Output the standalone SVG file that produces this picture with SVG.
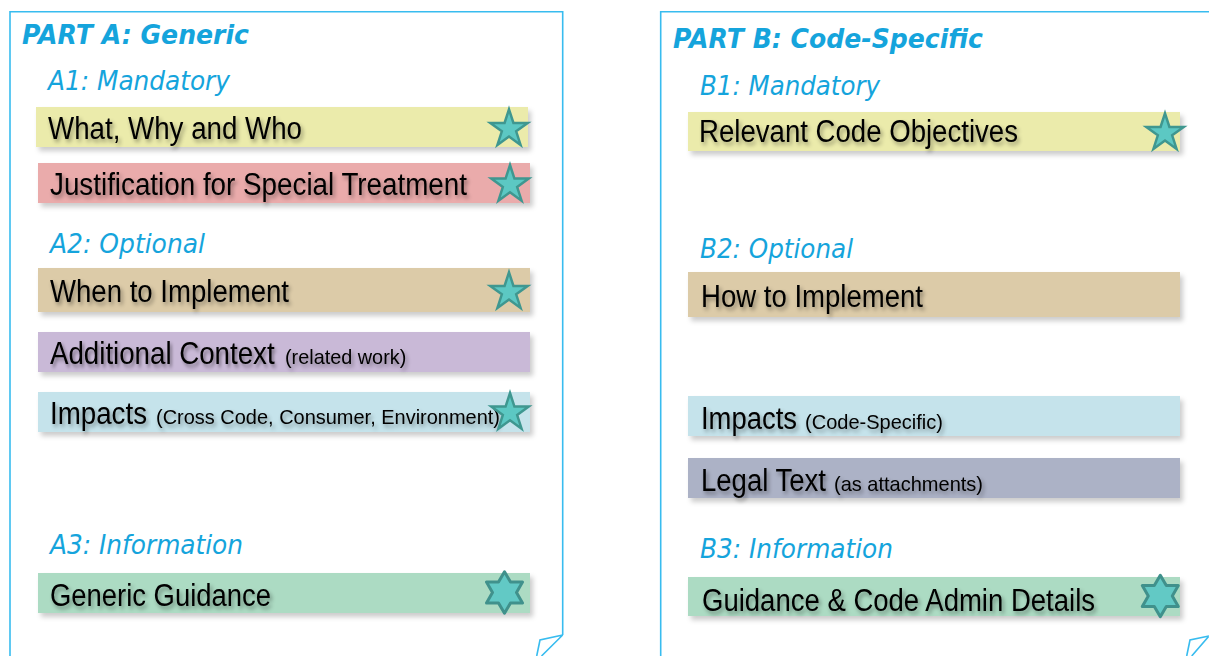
<svg xmlns="http://www.w3.org/2000/svg" xmlns:xlink="http://www.w3.org/1999/xlink" width="1209" height="656" viewBox="0 0 1209 656">
<style>
.panel{fill:none;stroke:#38bcef;stroke-width:1.6}
.h1{font-family:"DejaVu Sans",Verdana,sans-serif;font-weight:bold;font-style:italic;font-size:26px;fill:#15a4dc}
.h2{font-family:"DejaVu Sans",Verdana,sans-serif;font-style:italic;font-size:27px;fill:#15a4dc}
.t{font-family:"Liberation Sans",Arial,sans-serif;font-size:31px;fill:#000}
.s{font-family:"Liberation Sans",Arial,sans-serif;font-size:21px;fill:#000}
.box{filter:url(#bsh)}
.star{fill:#5cc8c3;stroke:#3f9790;stroke-width:2.5;stroke-linejoin:miter}
.hex{fill:#62c9c5;stroke:#40918c;stroke-width:3;stroke-linejoin:round}
</style>
<defs>
<filter id="bsh" x="-5%" y="-30%" width="115%" height="170%">
<feDropShadow dx="3" dy="4" stdDeviation="2.5" flood-color="#000" flood-opacity="0.2"/>
</filter>
<filter id="tsh" x="-2%" y="-25%" width="106%" height="160%">
<feGaussianBlur in="SourceAlpha" stdDeviation="2"/>
<feOffset dx="2" dy="3" result="b"/>
<feComponentTransfer in="b" result="c"><feFuncA type="linear" slope="0.4"/></feComponentTransfer>
<feMerge><feMergeNode in="c"/><feMergeNode in="SourceGraphic"/></feMerge>
</filter>
<path id="star5" class="star" d="M0,-19.7 L4.43,-6.09 L18.74,-6.09 L7.16,2.33 L11.58,15.94 L0,7.53 L-11.58,15.94 L-7.16,2.33 L-18.74,-6.09 L-4.43,-6.09 Z"/>
<path id="star6" class="hex" d="M0,-20.8 L6,-10.4 L18.01,-10.4 L12,0 L18.01,10.4 L6,10.4 L0,20.8 L-6,10.4 L-18.01,10.4 L-12,0 L-18.01,-10.4 L-6,-10.4 Z"/>
</defs>
<rect width="1209" height="656" fill="#fff"/>

<g id="panel-a">
<path class="panel" d="M10,656 V11.7 H562.7 V635"/>
<path class="panel" d="M562.7,635 L540,640 L536.7,656 M562.7,635 L541.5,656"/>
<text class="h1" x="22" y="44" textLength="227" lengthAdjust="spacingAndGlyphs">PART A: Generic</text>
<text class="h2" x="48" y="90" textLength="182" lengthAdjust="spacingAndGlyphs">A1: Mandatory</text>
<text class="h2" x="50" y="253" textLength="155" lengthAdjust="spacingAndGlyphs">A2: Optional</text>
<text class="h2" x="50" y="554" textLength="193" lengthAdjust="spacingAndGlyphs">A3: Information</text>
</g>

<g id="panel-b">
<path class="panel" d="M660.7,656 V11.7 H1210"/>
<path class="panel" d="M1209,636 L1190,640 L1186.7,656 M1209,636 L1191.7,656"/>
<text class="h1" x="673" y="48" textLength="310" lengthAdjust="spacingAndGlyphs">PART B: Code-Specific</text>
<text class="h2" x="700" y="95" textLength="180" lengthAdjust="spacingAndGlyphs">B1: Mandatory</text>
<text class="h2" x="700" y="258" textLength="153" lengthAdjust="spacingAndGlyphs">B2: Optional</text>
<text class="h2" x="700" y="558" textLength="193" lengthAdjust="spacingAndGlyphs">B3: Information</text>
</g>

<g id="what-why-who">
<rect class="box" x="36" y="107" width="492" height="40" fill="#ebebab"/>
<text class="t" x="48" y="139" textLength="254" lengthAdjust="spacingAndGlyphs" filter="url(#tsh)">What, Why and Who</text>
<use xlink:href="#star5" x="509" y="129"/>
</g>

<g id="justification">
<rect class="box" x="38" y="163" width="492" height="40" fill="#eaabab"/>
<text class="t" x="50" y="195" textLength="417" lengthAdjust="spacingAndGlyphs" filter="url(#tsh)">Justification for Special Treatment</text>
<use xlink:href="#star5" x="510" y="184.7"/>
</g>

<g id="when-to-implement">
<rect class="box" x="38" y="268" width="492" height="44" fill="#dccba8"/>
<text class="t" x="50" y="302" textLength="239" lengthAdjust="spacingAndGlyphs" filter="url(#tsh)">When to Implement</text>
<use xlink:href="#star5" x="509" y="292"/>
</g>

<g id="additional-context">
<rect class="box" x="38" y="332" width="492" height="40" fill="#c9b9d7"/>
<text class="t" transform="translate(50,364) scale(0.893,1)" x="0" y="0" filter="url(#tsh)">Additional Context</text>
<text class="s" transform="translate(285,364) scale(0.945,1)" x="0" y="0" filter="url(#tsh)">(related work)</text>
</g>

<g id="impacts-a">
<rect class="box" x="38" y="392" width="492" height="40" fill="#c5e3eb"/>
<text class="t" x="50" y="424" textLength="97" lengthAdjust="spacingAndGlyphs" filter="url(#tsh)">Impacts</text>
<text class="s" x="156" y="424" textLength="344" lengthAdjust="spacingAndGlyphs" filter="url(#tsh)">(Cross Code, Consumer, Environment)</text>
<use xlink:href="#star5" x="510" y="412.7"/>
</g>

<g id="generic-guidance">
<rect class="box" x="38" y="573" width="492" height="40" fill="#acdbc3"/>
<text class="t" x="50" y="606" textLength="221" lengthAdjust="spacingAndGlyphs" filter="url(#tsh)">Generic Guidance</text>
<use xlink:href="#star6" x="504.5" y="592.5"/>
</g>

<g id="relevant-code-objectives">
<rect class="box" x="688" y="112" width="492" height="39" fill="#ebebab"/>
<text class="t" x="699" y="142" textLength="319" lengthAdjust="spacingAndGlyphs" filter="url(#tsh)">Relevant Code Objectives</text>
<use xlink:href="#star5" x="1165" y="133"/>
</g>

<g id="how-to-implement">
<rect class="box" x="688" y="272" width="492" height="45" fill="#dccba8"/>
<text class="t" x="701" y="307" textLength="222" lengthAdjust="spacingAndGlyphs" filter="url(#tsh)">How to Implement</text>
</g>

<g id="impacts-b">
<rect class="box" x="688" y="396" width="492" height="40" fill="#c5e3eb"/>
<text class="t" x="701" y="429" textLength="96" lengthAdjust="spacingAndGlyphs" filter="url(#tsh)">Impacts</text>
<text class="s" x="805" y="429" textLength="138" lengthAdjust="spacingAndGlyphs" filter="url(#tsh)">(Code-Specific)</text>
</g>

<g id="legal-text">
<rect class="box" x="688" y="458" width="492" height="40" fill="#acb2c6"/>
<text class="t" x="701" y="491" textLength="125" lengthAdjust="spacingAndGlyphs" filter="url(#tsh)">Legal Text</text>
<text class="s" x="834" y="491" textLength="149" lengthAdjust="spacingAndGlyphs" filter="url(#tsh)">(as attachments)</text>
</g>

<g id="guidance-admin">
<rect class="box" x="688" y="577" width="492" height="39" fill="#acdbc3"/>
<text class="t" x="702" y="611" textLength="393" lengthAdjust="spacingAndGlyphs" filter="url(#tsh)">Guidance &amp; Code Admin Details</text>
<use xlink:href="#star6" x="1160.3" y="596"/>
</g>

<g id="connectors"></g>
</svg>
